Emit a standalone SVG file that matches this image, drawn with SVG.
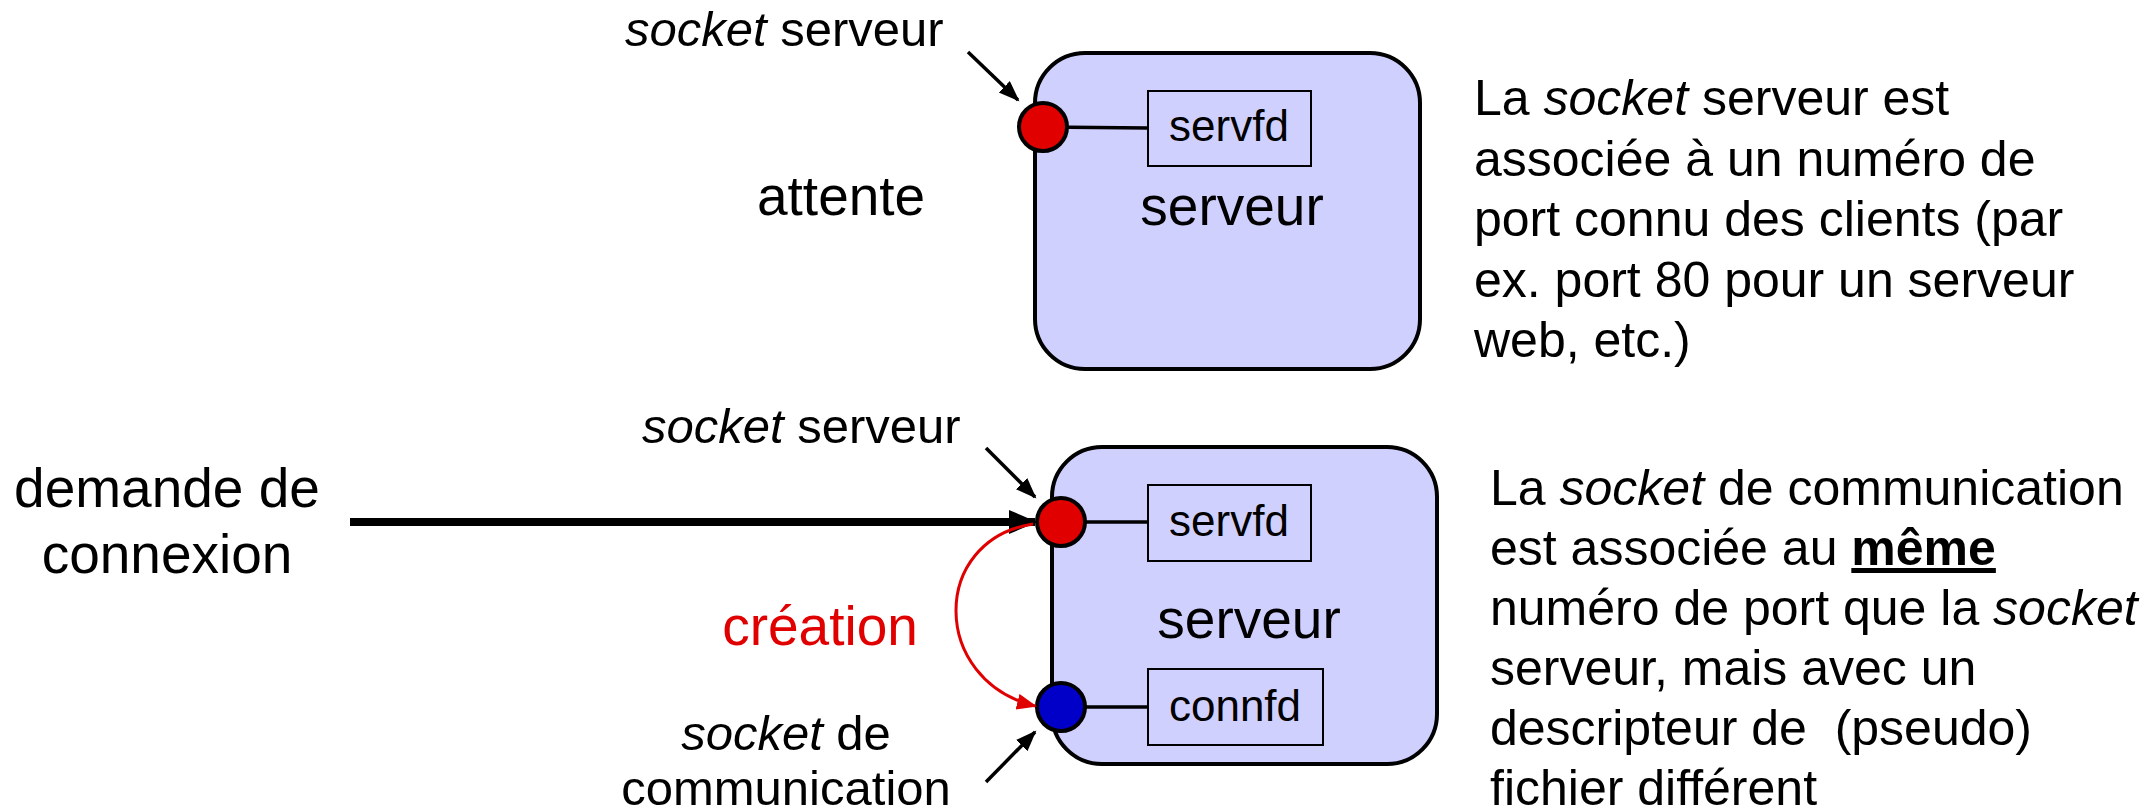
<svg xmlns="http://www.w3.org/2000/svg" width="2156" height="812" viewBox="0 0 2156 812">
<style>
text{font-family:"Liberation Sans",Arial,Helvetica,sans-serif;fill:#000}
.box{fill:#d0d0ff;stroke:#000;stroke-width:4}
.fd{fill:#d0d0ff;stroke:#000;stroke-width:2}
.fdt{font-size:44px}
.big{font-size:55px}
.lab{font-size:49px}
.par{font-size:50px}
.it{font-style:italic}
.link{stroke:#000;stroke-width:3.5;fill:none}
.sock{stroke:#000;stroke-width:4}
.red{fill:#e00000}
.blue{fill:#0000c8}
</style>
<defs>
<marker id="ah" markerUnits="userSpaceOnUse" markerWidth="22" markerHeight="18" refX="19" refY="8" orient="auto">
<path d="M0,0 L21,8 L0,16 z" fill="#000"/>
</marker>
<marker id="ahBig" markerUnits="userSpaceOnUse" markerWidth="30" markerHeight="26" refX="26" refY="12" orient="auto">
<path d="M0,0 L28,12 L0,24 z" fill="#000"/>
</marker>
<marker id="ahRed" markerUnits="userSpaceOnUse" markerWidth="22" markerHeight="18" refX="18" refY="8" orient="auto">
<path d="M0,0 L20,8 L0,16 z" fill="#e00000"/>
</marker>
</defs>

<g id="labels">
<text class="lab" x="625" y="46"><tspan class="it">socket</tspan> serveur</text>
<text class="big" x="757" y="215">attente</text>
<text class="lab" x="642" y="443"><tspan class="it">socket</tspan> serveur</text>
<text class="big" x="167" y="507" text-anchor="middle">demande de</text>
<text class="big" x="167" y="573" text-anchor="middle">connexion</text>
<text class="big" x="820" y="645" text-anchor="middle" style="fill:#e00000">création</text>
<text class="lab" x="786" y="750" text-anchor="middle"><tspan class="it">socket</tspan> de</text>
<text class="lab" x="786" y="805" text-anchor="middle">communication</text>
</g>

<g id="serveur-attente">
<rect class="box" x="1035" y="53" width="385" height="316" rx="50" ry="50"/>
<line class="link" x1="1043" y1="127" x2="1148" y2="128"/>
<rect class="fd" x="1148" y="91" width="163" height="75"/>
<text class="fdt" x="1229" y="141" text-anchor="middle">servfd</text>
<text class="big" x="1232" y="225" text-anchor="middle">serveur</text>
<circle class="sock red" cx="1043" cy="127" r="24"/>
</g>

<g id="serveur-connexion">
<rect class="box" x="1052" y="447" width="385" height="317" rx="50" ry="50"/>
<line class="link" x1="1061" y1="522" x2="1148" y2="522"/>
<rect class="fd" x="1148" y="485" width="163" height="76"/>
<text class="fdt" x="1229" y="536" text-anchor="middle">servfd</text>
<text class="big" x="1249" y="638" text-anchor="middle">serveur</text>
<line class="link" x1="1061" y1="707" x2="1148" y2="707"/>
<rect class="fd" x="1148" y="669" width="175" height="76"/>
<text class="fdt" x="1235" y="721" text-anchor="middle">connfd</text>
<circle class="sock red" cx="1061" cy="522" r="24"/>
<circle class="sock blue" cx="1061" cy="707" r="24"/>
</g>

<g id="connectors">
<line x1="968" y1="52" x2="1018" y2="100" stroke="#000" stroke-width="3.5" marker-end="url(#ah)"/>
<line x1="986" y1="448" x2="1035" y2="497" stroke="#000" stroke-width="3.5" marker-end="url(#ah)"/>
<line x1="986" y1="782" x2="1035" y2="732" stroke="#000" stroke-width="3.5" marker-end="url(#ah)"/>
<line x1="350" y1="522" x2="1035" y2="522" stroke="#000" stroke-width="8" marker-end="url(#ahBig)"/>
<path d="M1033,524 C930,540 930,680 1035,706" fill="none" stroke="#e00000" stroke-width="3" marker-end="url(#ahRed)"/>
</g>

<g id="texte-attente">
<text class="par" x="1474" y="115">La <tspan class="it">socket</tspan> serveur est</text>
<text class="par" x="1474" y="176">associée à un numéro de</text>
<text class="par" x="1474" y="236">port connu des clients (par</text>
<text class="par" x="1474" y="297">ex. port 80 pour un serveur</text>
<text class="par" x="1474" y="357">web, etc.)</text>
</g>

<g id="texte-connexion">
<text class="par" x="1490" y="505">La <tspan class="it">socket</tspan> de communication</text>
<text class="par" x="1490" y="565">est associée au <tspan font-weight="bold" text-decoration="underline">même</tspan></text>
<text class="par" x="1490" y="625">numéro de port que la <tspan class="it">socket</tspan></text>
<text class="par" x="1490" y="685">serveur, mais avec un</text>
<text class="par" x="1490" y="745" xml:space="preserve">descripteur de  (pseudo)</text>
<text class="par" x="1490" y="805">fichier différent</text>
</g>
</svg>
